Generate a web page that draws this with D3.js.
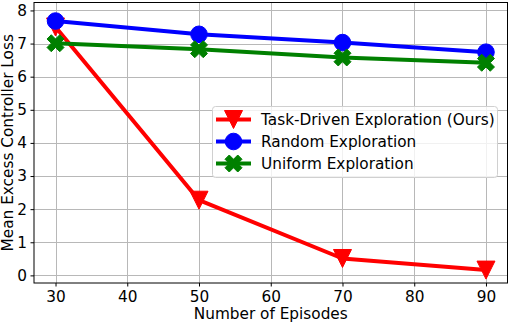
<!DOCTYPE html>
<html><head><meta charset="utf-8">
<script src="https://cdn.jsdelivr.net/npm/d3@7"></script>
<style>body{margin:0;background:#fff}svg{display:block}text{font-family:"DejaVu Sans",sans-serif;fill:#000}</style>
</head><body><svg id="c" width="508" height="324"></svg>
<script>
const episodes = [30, 50, 70, 90];
const taskDriven = [7.5, 2.27, 0.51, 0.16];
const randomExp = [7.68, 7.28, 7.03, 6.74];
const uniformExp = [7.01, 6.83, 6.58, 6.42];
const seriesNames = ["Task-Driven Exploration (Ours)", "Random Exploration", "Uniform Exploration"];
const xTicks = [30, 40, 50, 60, 70, 80, 90];
const yTicks = [0, 1, 2, 3, 4, 5, 6, 7, 8];

const FS = 15.3;
const svg = d3.select("#c");
const L = 34, R = 507.5, T = 2.5, B = 283;
const x = d3.scaleLinear().domain([27, 93]).range([L, R]);
const y = d3.scaleLinear().domain([-0.23, 8.24]).range([B, T]);

// grid
const g = svg.append("g");
g.selectAll(".gx").data(xTicks).join("line")
  .attr("x1", d => Math.round(x(d)) + 0.5).attr("x2", d => Math.round(x(d)) + 0.5)
  .attr("y1", T).attr("y2", B).attr("stroke", "#b8b8b8").attr("stroke-width", 1);
g.selectAll(".gy").data(yTicks).join("line")
  .attr("y1", d => Math.round(y(d)) + 0.5).attr("y2", d => Math.round(y(d)) + 0.5)
  .attr("x1", L).attr("x2", R).attr("stroke", "#b8b8b8").attr("stroke-width", 1);

// axes
const xAxis = d3.axisBottom(x).tickValues(xTicks).tickSize(3.5).tickPadding(4.5).tickFormat(d3.format("d"));
const yAxis = d3.axisLeft(y).tickValues(yTicks).tickSize(3.5).tickPadding(3.5).tickFormat(d3.format("d"));
const ax = svg.append("g").attr("transform", `translate(0,${B})`).call(xAxis);
const ay = svg.append("g").attr("transform", `translate(${L},0)`).call(yAxis);
[ax, ay].forEach(a => {
  a.select(".domain").remove();
  a.selectAll("text").attr("font-size", FS).attr("font-family", "DejaVu Sans");
  a.selectAll("line").attr("stroke", "#000");
});
svg.append("rect").attr("x", L).attr("y", T).attr("width", R - L).attr("height", B - T)
  .attr("fill", "none").attr("stroke", "#000").attr("stroke-width", 1);

// markers
const triPath = s => `M${-s/2},${-s/2}L${s/2},${-s/2}L0,${s/2}Z`;
const xPath = s => {
  const p = [[0.25,0],[0.5,0.25],[0.25,0.5],[0,0.25],[-0.25,0.5],[-0.5,0.25],[-0.25,0],[-0.5,-0.25],[-0.25,-0.5],[0,-0.25],[0.25,-0.5],[0.5,-0.25]];
  return "M" + p.map(q => `${q[0]*s},${q[1]*s}`).join("L") + "Z";
};
const series = [
  {name: seriesNames[0], vals: taskDriven, color: "#ff0000", marker: "tri"},
  {name: seriesNames[1], vals: randomExp, color: "#0000ff", marker: "circ"},
  {name: seriesNames[2], vals: uniformExp, color: "#008000", marker: "x"}
];
function drawMarker(sel, m, color) {
  if (m === "tri") sel.append("path").attr("d", triPath(18)).attr("fill", color).attr("stroke", color).attr("stroke-width", 1);
  else if (m === "circ") sel.append("circle").attr("r", 8.3).attr("fill", color).attr("stroke", color).attr("stroke-width", 1);
  else sel.append("path").attr("d", xPath(17)).attr("fill", color).attr("stroke", color).attr("stroke-width", 1).attr("stroke-linejoin", "miter");
}
const line = d3.line().x((d, i) => x(episodes[i])).y(d => y(d));
series.forEach(s => {
  const sg = svg.append("g");
  sg.append("path").attr("d", line(s.vals)).attr("fill", "none").attr("stroke", s.color).attr("stroke-width", 4).attr("stroke-linejoin", "round");
  s.vals.forEach((v, i) => {
    const mg = sg.append("g").attr("transform", `translate(${x(episodes[i])},${y(v)})`);
    drawMarker(mg, s.marker, s.color);
  });
});

// legend
const lg = svg.append("g");
lg.append("rect").attr("x", 212.5).attr("y", 106.5).attr("width", 285).attr("height", 71).attr("rx", 3)
  .attr("fill", "#fff").attr("fill-opacity", 0.8).attr("stroke", "#d0d0d0").attr("stroke-width", 1);
const rowY = [119.5, 141.5, 163.5];
series.forEach((s, i) => {
  const r = lg.append("g").attr("transform", `translate(0,${rowY[i]})`);
  r.append("line").attr("x1", 216).attr("x2", 251).attr("y1", 0).attr("y2", 0).attr("stroke", s.color).attr("stroke-width", 4);
  const mg = r.append("g").attr("transform", "translate(233.5,0)");
  drawMarker(mg, s.marker, s.color);
  r.append("text").attr("x", 261).attr("y", 0).attr("dy", "0.36em").attr("font-size", FS).text(s.name);
});

// axis labels
svg.append("text").attr("x", (L + R) / 2).attr("y", 319).attr("text-anchor", "middle").attr("font-size", FS).text("Number of Episodes");
svg.append("text").attr("transform", `translate(13,${(T + B) / 2}) rotate(-90)`).attr("text-anchor", "middle").attr("font-size", FS).text("Mean Excess Controller Loss");
</script></body></html>
